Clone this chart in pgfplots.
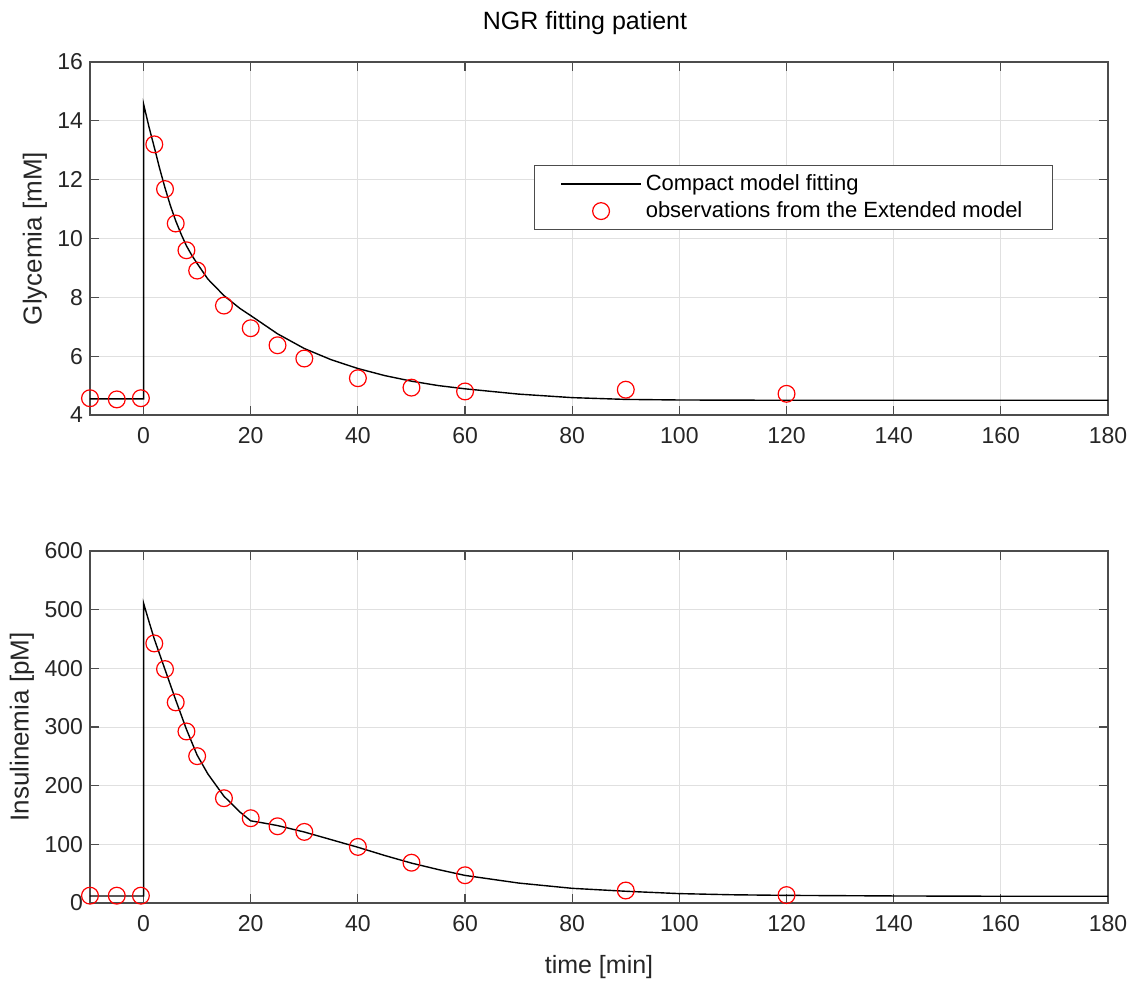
\documentclass[border=0pt]{standalone}
\usepackage{fontspec}
\setmainfont{Liberation Sans}
\usepackage{pgfplots}
\pgfplotsset{compat=1.18}
\definecolor{axgray}{gray}{0.3}
\definecolor{gridgray}{gray}{0.88}
\definecolor{txtgray}{gray}{0.15}

\pgfplotstableread{
t g
-10 4.55
0 4.55
0 14.57
1 13.8
2 13.1
3 12.38
4 11.72
5 11.12
6 10.6
7 10.15
8 9.75
9 9.43
10 9.15
12 8.62
15 8.06
18 7.62
20 7.38
25 6.76
30 6.26
35 5.88
40 5.58
45 5.34
50 5.15
55 5.0
60 4.89
70 4.71
80 4.59
90 4.53
100 4.51
120 4.5
150 4.5
180 4.5
}\glymodel

\pgfplotstableread{
t g
-10 4.57
-5 4.53
-0.5 4.57
2 13.2
4 11.68
6 10.51
8 9.6
10 8.91
15 7.72
20 6.95
25 6.37
30 5.92
40 5.25
50 4.93
60 4.8
90 4.86
120 4.72
}\glyobs

\pgfplotstableread{
t i
-10 12
0 12
0 511
1 480
2 450
4 398
6 346
8 296
10 252
12 220
15 182
18 155
20 140
22 137
25 132
30 121
35 108
40 95
45 81
50 68
55 57
60 47
70 34
80 25
90 20
100 16
110 14
120 13
140 12
160 11.5
180 11.5
}\insmodel

\pgfplotstableread{
t i
-10 12.5
-5 12.5
-0.5 12.5
2 442.5
4 398.7
6 342
8 292.4
10 250.3
15 178.6
20 144.5
25 130.8
30 121.2
40 95.6
50 68.7
60 47.3
90 21.3
120 13.5
}\insobs

\pgfplotsset{
  matlab/.style={
    scale only axis, width=509pt,
    xmin=-10, xmax=180,
    xtick={0,20,...,180},
    grid=major, major grid style={gridgray, line width=0.5pt},
    axis line style={axgray, line width=0.7pt},
    tick style={axgray, line width=0.6pt},
    tick align=inside, major tick length=4.5pt,
    ticklabel style={font=\fontsize{11.5}{13}\selectfont, text=txtgray},
    xticklabel style={yshift=-2.5pt},
    /pgf/number format/assume math mode=true,
    label style={font=\fontsize{13}{15}\selectfont, text=txtgray},
  },
  modelline/.style={black, line width=0.7pt,
    legend image code/.code={\draw[##1] (0pt,0pt) -- (40pt,0pt);}},
  obsmarks/.style={only marks, mark=o, mark size=4.2pt, red, mark options={line width=0.6pt},
    legend image code/.code={\draw[mark repeat=2, mark phase=2, ##1] plot coordinates {(0pt,0pt) (20pt,0pt) (40pt,0pt)};}},
}

\begin{document}
\begin{tikzpicture}
\begin{axis}[matlab,
  height=176.5pt,
  at={(45pt,283pt)}, anchor=south west,
  ymin=4, ymax=16, ytick={4,6,...,16},
  ylabel={Glycemia [mM]},
  ylabel style={at={(axis description cs:-0.054,0.5)}, anchor=center},
  title={NGR fitting patient},
  title style={at={(axis description cs:0.5,1)}, anchor=center, yshift=13.5pt, xshift=-7pt, font=\fontsize{12.5}{14}\selectfont},
  legend cell align=left,
  legend style={at={(axis description cs:0.946,0.708)}, anchor=north east,
    draw=axgray, line width=0.6pt, font=\fontsize{11}{13}\selectfont,
    inner xsep=13pt, inner ysep=2.5pt, row sep=0pt},
]
\addplot[modelline] table[x=t, y=g] {\glymodel};
\addlegendentry{Compact model fitting}
\addplot[obsmarks] table[x=t, y=g] {\glyobs};
\addlegendentry{observations from the Extended model}
\end{axis}

\begin{axis}[matlab,
  height=176pt,
  at={(45pt,39pt)}, anchor=south west,
  ymin=0, ymax=600, ytick={0,100,...,600},
  ylabel={Insulinemia [pM]},
  ylabel style={at={(axis description cs:-0.067,0.5)}, anchor=center},
  xlabel={time [min]},
  xlabel style={at={(axis description cs:0.5,0)}, anchor=center, yshift=-32pt, font=\fontsize{12.5}{14}\selectfont},
]
\addplot[modelline] table[x=t, y=i] {\insmodel};
\addplot[obsmarks] table[x=t, y=i] {\insobs};
\end{axis}
\pgfresetboundingbox
\path[use as bounding box] (0,0) rectangle (571pt,490.5pt);
\end{tikzpicture}
\end{document}
